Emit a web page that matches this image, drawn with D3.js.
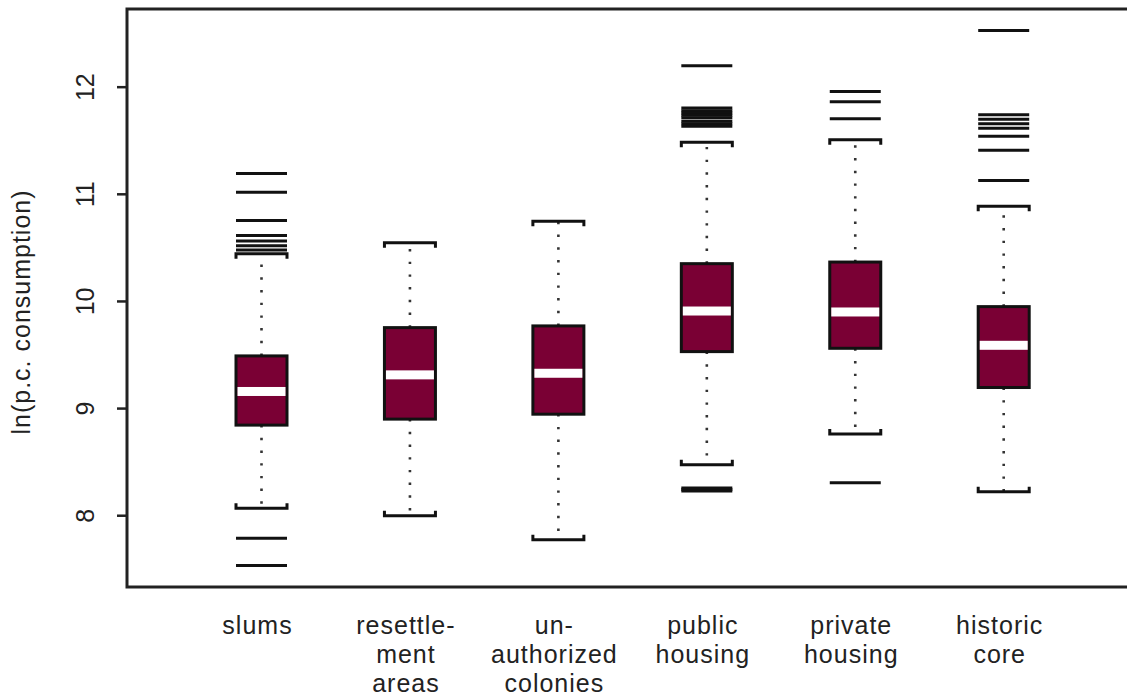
<!DOCTYPE html>
<html>
<head>
<meta charset="utf-8">
<script src="https://cdn.jsdelivr.net/npm/d3@7"></script>
<style>
  body { margin: 0; background: #fff; }
  text { font-family: "Liberation Sans", Arial, sans-serif; fill: #222; }
</style>
</head>
<body>
<script>
// data
const categories = ["slums", "resettlement areas", "unauthorized colonies", "public housing", "private housing", "historic core"];
const categoryLabels = [["slums"], ["resettle-", "ment", "areas"], ["un-", "authorized", "colonies"], ["public", "housing"], ["private", "housing"], ["historic", "core"]];
const lowerWhisker = [8.064, 7.996, 7.77, 8.471, 8.757, 8.219];
const q1 = [8.841, 8.897, 8.943, 9.527, 9.558, 9.192];
const median = [9.155, 9.31, 9.325, 9.906, 9.897, 9.586];
const q3 = [9.487, 9.751, 9.767, 10.348, 10.363, 9.947];
const upperWhisker = [10.44, 10.543, 10.745, 11.481, 11.504, 10.884];
const outliers = [
  [11.19, 11.015, 10.751, 10.61, 10.56, 10.515, 10.475, 7.785, 7.53],
  [],
  [],
  [12.196, 11.80, 11.776, 11.755, 11.733, 11.709, 11.677, 11.655, 11.63, 8.255, 8.24, 8.225],
  [11.956, 11.86, 11.70, 8.304],
  [12.525, 11.739, 11.697, 11.655, 11.611, 11.537, 11.406, 11.124]
];
const yTicks = [8, 9, 10, 11, 12];
const yTitle = "ln(p.c. consumption)";

const width = 1127, height = 700;
const svg = d3.select("body").append("svg").attr("width", width).attr("height", height);

const plotLeft = 127, plotTop = 9, plotBottom = 587;
const x = d3.scalePoint().domain(categories).range([261.5, 1003.7]);
const y = d3.scaleLinear().domain([7.33, 12.725]).range([plotBottom, plotTop]);

const boxW = 51; // inner, plus 3px stroke
const fill = "#7a0034";

const rows = categories.map((c, i) => ({
  c, lo: lowerWhisker[i], q1: q1[i], med: median[i], q3: q3[i], hi: upperWhisker[i], out: outliers[i]
}));

const g = svg.selectAll("g.box").data(rows).enter().append("g").attr("class", "box");

// dotted whiskers
g.append("line")
  .attr("x1", d => x(d.c)).attr("x2", d => x(d.c))
  .attr("y1", d => y(d.q3)).attr("y2", d => y(d.hi))
  .attr("stroke", "#333").attr("stroke-width", 2.6).attr("stroke-dasharray", "2.4,10.3");
g.append("line")
  .attr("x1", d => x(d.c)).attr("x2", d => x(d.c))
  .attr("y1", d => y(d.q1)).attr("y2", d => y(d.lo))
  .attr("stroke", "#333").attr("stroke-width", 2.6).attr("stroke-dasharray", "2.4,10.3");

// staples, hooks toward the box
g.append("path")
  .attr("d", d => {
    const a = x(d.c) - boxW / 2, b = x(d.c) + boxW / 2, yy = y(d.hi);
    return `M${a},${yy + 5}L${a},${yy}L${b},${yy}L${b},${yy + 5}`;
  })
  .attr("fill", "none").attr("stroke", "#111").attr("stroke-width", 3);
g.append("path")
  .attr("d", d => {
    const a = x(d.c) - boxW / 2, b = x(d.c) + boxW / 2, yy = y(d.lo);
    return `M${a},${yy - 5}L${a},${yy}L${b},${yy}L${b},${yy - 5}`;
  })
  .attr("fill", "none").attr("stroke", "#111").attr("stroke-width", 3);

// boxes
g.append("rect")
  .attr("x", d => x(d.c) - boxW / 2).attr("width", boxW)
  .attr("y", d => y(d.q3)).attr("height", d => y(d.q1) - y(d.q3))
  .attr("fill", fill).attr("stroke", "#111").attr("stroke-width", 3);

// median band
g.append("rect")
  .attr("x", d => x(d.c) - boxW / 2 + 1.5).attr("width", boxW - 3)
  .attr("y", d => y(d.med) - 4.5).attr("height", 9)
  .attr("fill", "#fff");

// outliers as short horizontal lines
g.selectAll("line.out").data(d => d.out.map(v => ({ c: d.c, v }))).enter().append("line")
  .attr("class", "out")
  .attr("x1", d => x(d.c) - boxW / 2).attr("x2", d => x(d.c) + boxW / 2)
  .attr("y1", d => y(d.v)).attr("y2", d => y(d.v))
  .attr("stroke", "#111").attr("stroke-width", 3);

// frame
svg.append("rect")
  .attr("x", plotLeft).attr("y", plotTop).attr("width", width).attr("height", plotBottom - plotTop)
  .attr("fill", "none").attr("stroke", "#222").attr("stroke-width", 3);

// y axis
const yAxis = svg.append("g").attr("transform", `translate(${plotLeft},0)`)
  .call(d3.axisLeft(y).tickValues(yTicks).tickSize(10).tickFormat(d3.format("d")));
yAxis.select(".domain").remove();
yAxis.selectAll(".tick line").attr("stroke", "#222").attr("stroke-width", 2.5);
yAxis.selectAll(".tick text")
  .attr("x", null).attr("dy", null)
  .attr("transform", "translate(-33,0) rotate(-90)")
  .attr("text-anchor", "middle")
  .style("font-size", "25px").style("fill", "#222")
  .style("font-family", "Liberation Sans, Arial, sans-serif");

svg.append("text")
  .attr("transform", "translate(30,312) rotate(-90)")
  .attr("text-anchor", "middle")
  .style("font-size", "25px").style("letter-spacing", "1px")
  .text(yTitle);

// category labels
const lab = svg.selectAll("text.cat").data(rows).enter().append("text")
  .attr("class", "cat")
  .attr("text-anchor", "middle")
  .style("font-size", "25px").style("letter-spacing", "1px");
lab.selectAll("tspan").data((d, i) => categoryLabels[i].map((t, k) => ({ t, k, c: d.c }))).enter()
  .append("tspan")
  .attr("x", d => x(d.c) - 4)
  .attr("y", d => 634 + d.k * 29)
  .text(d => d.t);
</script>
</body>
</html>
